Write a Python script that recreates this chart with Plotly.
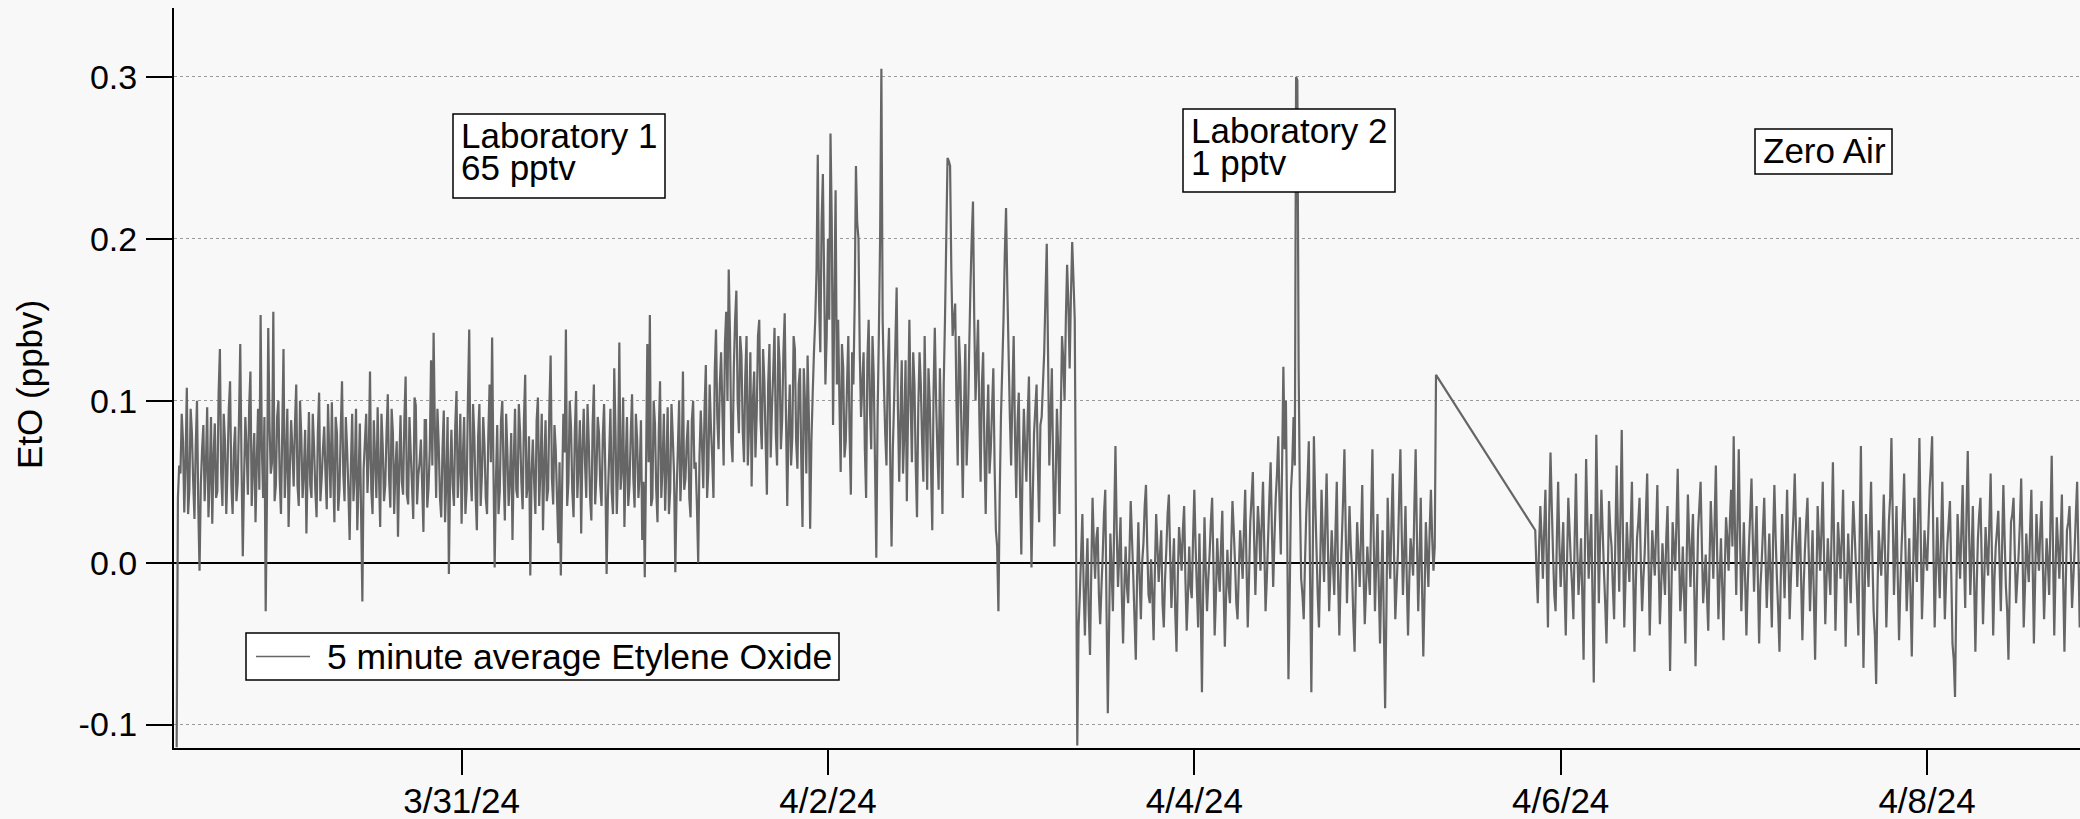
import pandas as pd
import plotly.graph_objects as go

# ---------------- data (in pptv) ----------------
# main readings every 20 min, plus the readings taken in between (offset by 10 min)
STEP = "20min"
HALF_STEP = pd.Timedelta("10min")

lab1_start = "2024-03-29 10:40"
lab1_pptv = [
    -114, 60, 92, 31, 108, 45, 80, 27, 100, -5, 70, 38, 96, 52, 24, 86, 44, 132, 35, 75,
    58, 112, 30, 84, 50, 135, 4, 90, 42, 118, 60, 25, 95, 153, 40, -30, 145, 55, 155, 48,
    100, 30, 132, 62, 22, 88, 47, 110, 35, 78, 56, 18, 93, 40, 72, 28, 105, 52, 84, 33,
    67, 99, 25, 80, 45, 112, 38, 70, 14, 92, 55, 20, 86, -24, 75, 43, 118, 30, 64, 96,
    22, 72, 48, 104, 34, 80, 58, 16, 91, 42, 115, 36, 68, 27, 97, 54, 76, 19, 88, 46,
    125, 142, 40, 73, 28, 94, 50, -7, 82, 35, 106, 60, 24, 90, 46, 144, 38, 78, 20, 98,
    55, 72, 30, 110, 139, -3, 85, 44, 100, 26, 68, 52, 14, 95, 40, 80, 33, 116, 48, -8,
    76, 30, 102, 58, 20, 88, 45, 128, 36, 70, 12, -8, 92, 144, 50, 84, 28, 106, 62, 18,
    95, 40, 74, 26, 110, 54, 80, 35, 98, -7, 66, 44, 120, 30, 136, 58, 22, 90, 48, 104,
    34, 76, 55, 14, -9, 135, 153, 40, 86, 25, 112, 60, 32, 96, 45, 78, -6, 70, 38, 118,
    52, 88, 28, 100, 62, 0, 94, 46, 122, 58, 84, 40, 144, 70, 130, 60, 155, 181, 75, 120,
    168, 80, 128, 62, 140, 85, 47, 118, 92, 150, 70, 112, 42, 135, 96, 145, 60, 123, 88, 154,
    35, 110, 78, 132, 58, 120, 22, 98, 128, 21, 104, 150, 252, 130, 240, 110, 200, 265, 85, 230,
    150, 56, 120, 75, 140, 42, 110, 245, 200, 90, 130, 40, 150, 70, 115, 3, 140, 305, 110, 60,
    145, 10, 100, 170, 50, 125, 80, 38, 150, 62, 110, 28, 130, 75, 140, 45, 100, 20, 145, 70,
    120, 30, 150, 250, 245, 140, 160, 60, 120, 40, 135, 85, 170, 223, 100, 150, 50, 130, 30, 110,
    70, 120, 20, -30, 90, 150, 219, 130, 60, 140, 40, 105, 5, 95, 50, 115, -3, 80, 110, 25,
    90, 130, 197, 60, 120, 10, 95, 30, 140, 100, 184, 120, 198, 150,
]
lab1_mid_pptv = [
    40, 55, 75, 62, 30, 95, 50, 72, 35, 48, 85, 60, 28, 90, 65, 40, 105, 55, 92, 30,
    95, 48, 70, 38, 88, 60, 52, 70, 96, 35, 80, 62, 45, 70, 90, 40, 85, 62, 38, 90,
    52, 80, 40, 95, 58, 70, 85, 48, 100, 40, 82, 60, 48, 92, 45, 80, 38, 70, 55, 98,
    40, 58, 90, 32, 82, 55, 90, 45, 60, 38, 95, 50, 30, 58, 92, 65, 45, 88, 40, 55,
    92, 38, 80, 52, 95, 30, 75, 60, 50, 88, 42, 90, 48, 102, 36, 62, 48, 88, 34, 70,
    60, 82, 95, 40, 70, 25, 90, 55, 48, 84, 40, 92, 66, 30, 102, 55, 98, 42, 78, 35,
    90, 40, 78, 62, 60, 50, 30, 88, 55, 92, 35, 80, 62, 45, 98, 50, 88, 40, 78, 55,
    50, 88, 35, 92, 60, 38, 96, 52, 85, 40, 62, 45, 68, 35, 100, 45, 80, 40, 88, 70,
    62, 98, 40, 85, 36, 90, 48, 78, 55, 40, 95, 30, 80, 58, 45, 102, 62, 35, 80, 52,
    92, 40, 88, 50, 60, 62, 35, 100, 45, 80, 40, 92, 60, 30, 98, 55, 42, 100, 60, 45,
    75, 40, 88, 58, 35, 65, 72, 95, 40, 110, 65, 118, 90, 110, 95, 135, 100, 140, 62, 150,
    100, 140, 82, 115, 60, 130, 100, 65, 140, 88, 132, 75, 110, 65, 118, 80, 140, 70, 130, 90,
    85, 60, 140, 75, 110, 65, 120, 55, 90, 75, 130, 180, 160, 210, 175, 140, 150, 210, 160, 110,
    100, 135, 65, 110, 80, 130, 160, 210, 130, 110, 70, 125, 95, 140, 60, 90, 200, 150, 80, 120,
    60, 70, 135, 95, 90, 55, 125, 95, 100, 130, 60, 95, 110, 50, 90, 120, 60, 105, 100, 45,
    80, 110, 200, 248, 180, 150, 100, 140, 80, 95, 60, 130, 200, 150, 125, 90, 110, 70, 80, 55,
    95, 60, 10, 40, 120, 190, 170, 90, 105, 80, 85, 45, 60, 70, 90, 50, 40, 95, 60, 85,
    110, 165, 130, 90, 60, 50, 70, 90, 125, 150, 160, 165, 175,
]

lab2_start = "2024-04-03 08:40"
lab2_pptv = [
    -113, -20, 30, -45, 15, -57, 40, -10, 22, -38, 5, 45, -93, 18, -30, 72, -15, 28, -50, 10,
    -25, 38, -8, -60, 25, -35, 12, 48, -20, 2, -48, 30, -12, 20, -40, 8, 42, -28, 15, -55,
    22, -5, 35, -42, 10, -22, 45, -15, 18, -80, 28, -30, 5, 40, -45, 15, -18, 32, -52, 8,
    -25, 38, 0, -35, 20, -10, 45, -40, 25, 56, -20, 35, -5, 50, -30, 15, 62, -15, 40, 78,
    5, 121, 100, -72, 45, 90, 300, 120, -10, -35, 30, 75, -80, 78, 10, -40, 45, -12, 55, -30,
    20, -20, 50, -45, 15, 70, -25, 35, -5, -55, 25, -15, 48, -38, 10, -20, 70, -30, 30, -50,
    20, -90, 40, -10, 55, -35, 5, 70, -20, 35, -45, 15, -8, 70, -30, 40, -58, 25, -15, 45, -5, 116,
]
lab2_mid_pptv = [
    -40, 5, -15, -10, -30, -5, 12, 15, -20, -15, 30, -30, -40, -5, 25, 20, 5, -20, -15, -15,
    5, 15, -35, -10, -10, 0, 35, 10, -25, -20, -5, 10, 5, -25, -10, 30, 5, -5, -30, -10,
    10, 20, -10, -20, -15, 15, 10, -40, -25, -15, -5, -10, 25, 0, -20, -5, 10, -15, -20, -15,
    10, 20, -25, -5, 5, 20, 0, -10, 40, 15, 10, 20, 25, 10, -10, 40, 20, 15, 55, 35,
    60, 70, 20, -20, 60, 60, 298, 40, -20, 0, 50, -10, -5, 40, -20, 0, 15, 25, 10, -5,
    0, 20, -10, -10, 40, 20, 5, 10, -35, -10, 5, 15, -5, -15, -5, 30, 15, 0, -15, -10,
    -40, -30, 10, 25, 5, -15, 40, 20, 5, -10, -10, 5, 35, 15, 0, -15, -20, 5, 20, 15, 10,
]

zero_air_start = "2024-04-05 20:40"
zero_air_pptv = [
    20, -25, 35, -10, 45, -40, 68, 5, -30, 50, -15, 25, -45, 40, 0, -35, 55, -20, 15, -60,
    64, -10, 30, -74, 79, -25, 45, -5, -50, 38, 10, -35, 60, -18, 82, -40, 25, -12, 50, -55,
    15, 40, -30, 5, 55, -45, 20, -8, 48, -38, 12, -20, 35, -67, 25, -5, 58, -30, 10, -50,
    42, -15, 30, -64, 20, 50, -25, 5, -42, 38, -10, 60, -35, 15, -48, 28, -5, 45, 78, -20,
    70, -30, 25, -45, 10, 52, -18, 35, -50, 0, 40, -28, 18, -40, 48, -10, -55, 30, -22, 45,
    -35, 12, 55, -15, 28, -48, 8, 40, -30, 20, -60, 35, -5, 50, -38, 15, -20, 62, -42, 25,
    -10, 45, -52, 18, -25, 38, 0, -45, 72, -65, 30, -15, 50, -30, -75, 20, -8, 42, -40, 25,
    77, -20, 35, -48, 10, 55, -30, 15, -58, 40, -12, 77, -35, 20, -5, 45, 78, -40, 28, -22,
    50, -35, 12, 38, -50, -83, 30, -10, 48, -28, 69, -20, 35, -55, 15, 40, -38, 22, -8, 55,
    -45, 10, 32, -30, 48, -15, -60, 25, 40, -25, 5, 52, -40, 18, -12, 45, -50, 30, -5, 38,
    -35, 15, -20, 66, -45, 28, -10, 42, -55, 20, 35, -28, 8, 50, -40, 25,
]
zero_air_mid_pptv = [
    -5, 10, 15, 20, 0, 30, 35, -20, 15, 10, 5, -15, 0, 20, -15, 15, 10, -5, -20, 5,
    25, 10, -20, 0, 30, 15, 20, -25, -10, 20, -15, 15, 20, 30, 15, -10, 5, 20, -5, -15,
    25, 0, -10, 30, 5, -10, 5, 20, 0, -15, -5, 15, -10, -20, 10, 25, 10, -15, -20, 0,
    15, 10, -15, -20, 35, 10, -10, -20, 0, 15, 25, 5, -10, -15, -5, 15, 25, 10, 20, 25,
    15, -5, -10, -15, 30, 15, 10, -10, -15, 20, 5, -5, -10, 15, 15, -30, -10, 5, 10, 5,
    -10, 30, 20, 10, -10, -15, 25, 5, -5, -20, -15, 15, 20, 5, -10, -5, 20, 10, -10, 10,
    15, -5, -15, -5, 10, 20, -20, 15, 5, -20, 5, 20, 5, -45, -20, 5, 15, 5, -10, 40,
    30, 5, -10, -15, 30, 10, -10, -20, -10, 10, 30, 20, -10, 5, 20, 60, 10, -5, 0, 15,
    5, -10, 25, -5, -60, -20, 10, 20, 5, 30, 20, 5, -10, -15, 30, 0, -10, 5, 25, 5,
    -10, 20, 0, 10, 15, -30, -15, 30, 5, -10, 25, 10, -15, 0, 20, 0, -10, 10, 20, 0,
    -10, 0, 25, 10, -5, 10, 15, -10, -15, 25, 5, -10, 30, 5, -5,
]

series_name = "5 minute average Etylene Oxide"
tick_dates = ["2024-03-31", "2024-04-02", "2024-04-04", "2024-04-06", "2024-04-08"]
tick_labels = ["3/31/24", "4/2/24", "4/4/24", "4/6/24", "4/8/24"]
y_ticks = [-0.1, 0.0, 0.1, 0.2, 0.3]
y_tick_labels = ["-0.1", "0.0", "0.1", "0.2", "0.3"]
period_labels = [["Laboratory 1", "65 pptv"], ["Laboratory 2", "1 pptv"], ["Zero Air"]]

# ---------------- build series (main and in-between readings merged in time order) ----
segments = [
    (lab1_start, lab1_pptv, lab1_mid_pptv),
    (lab2_start, lab2_pptv, lab2_mid_pptv),
    (zero_air_start, zero_air_pptv, zero_air_mid_pptv),
]
times, vals = [], []
for start, main, mid in segments:
    t_main = pd.date_range(start, periods=len(main), freq=STEP)
    for i, v in enumerate(main):
        times.append(t_main[i])
        vals.append(v / 1000.0)
        if i < len(mid):
            times.append(t_main[i] + HALF_STEP)
            vals.append(mid[i] / 1000.0)

# ---------------- layout geometry (pixels) ----------------
W, H = 2080, 819
L, R, T, B = 174, 0, 8, 71
PW, PH = W - L - R, H - T - B


def px_x(px):
    return (px - L) / PW


def px_y(py):
    return (H - B - py) / PH


BG = "#f8f8f8"
FONT = "Liberation Sans, Arial, Helvetica, sans-serif"
LINE_COLOR = "#666666"

fig = go.Figure()
fig.add_trace(go.Scatter(
    x=times, y=vals, mode="lines", name=series_name,
    line=dict(color=LINE_COLOR, width=2.2, simplify=False),
    showlegend=False,
))

shapes = []
annotations = []
# text boxes: (box x0, x1, y0, y1, text left, line middles)
box_geom = [
    (453, 665, 114, 198, 460, [135, 167]),
    (1183, 1395, 109, 192, 1190, [130, 162]),
    (1755, 1892, 129, 174, 1762, [150]),
]
for (x0, x1, y0, y1, tx, mids), lines in zip(box_geom, period_labels):
    shapes.append(dict(type="rect", xref="paper", yref="paper",
                       x0=px_x(x0), x1=px_x(x1), y0=px_y(y1), y1=px_y(y0),
                       line=dict(color="black", width=1.5), fillcolor="white", layer="above"))
    for text, my in zip(lines, mids):
        annotations.append(dict(text=text, xref="paper", yref="paper", x=px_x(tx), y=px_y(my),
                                xanchor="left", yanchor="middle", showarrow=False,
                                font=dict(size=35, color="black", family=FONT), borderpad=0))

# legend box (drawn by hand to match the long line sample)
shapes.append(dict(type="rect", xref="paper", yref="paper",
                   x0=px_x(246), x1=px_x(839), y0=px_y(680), y1=px_y(633),
                   line=dict(color="black", width=1.5), fillcolor="white", layer="above"))
shapes.append(dict(type="line", xref="paper", yref="paper",
                   x0=px_x(256), x1=px_x(310), y0=px_y(656.5), y1=px_y(656.5),
                   line=dict(color=LINE_COLOR, width=1.5), layer="above"))
annotations.append(dict(text=series_name, xref="paper", yref="paper",
                        x=px_x(326), y=px_y(656.5), xanchor="left", yanchor="middle",
                        showarrow=False, borderpad=0,
                        font=dict(size=35.5, color="black", family=FONT)))

annotations.append(dict(text="EtO (ppbv)", textangle=-90, xref="paper", yref="paper",
                        x=px_x(29), y=px_y(385), xanchor="center", yanchor="middle",
                        showarrow=False, font=dict(size=35, color="black", family=FONT)))

fig.update_layout(
    width=W, height=H,
    margin=dict(l=L, r=R, t=T, b=B, pad=0),
    paper_bgcolor=BG, plot_bgcolor=BG,
    font=dict(family=FONT, size=35, color="black"),
    showlegend=False,
    shapes=shapes, annotations=annotations,
    xaxis=dict(type="date",
               range=["2024-03-29 10:19:12", "2024-04-08 20:02:24"],
               tickmode="array", tickvals=tick_dates, ticktext=tick_labels,
               ticks="outside", ticklen=25, tickwidth=1.5, tickcolor="black",
               showline=True, linecolor="black", linewidth=2,
               showgrid=False, zeroline=False, automargin=False,
               tickfont=dict(size=35, family=FONT, color="black"), ticklabelstandoff=-4),
    yaxis=dict(range=[-0.1145, 0.3426],
               tickmode="array", tickvals=y_ticks, ticktext=y_tick_labels,
               ticks="outside", ticklen=26, tickwidth=1.5, tickcolor="black",
               showline=True, linecolor="black", linewidth=2,
               showgrid=True, gridcolor="#9a9a9a", gridwidth=1, griddash="dot",
               zeroline=True, zerolinecolor="black", zerolinewidth=1.5,
               automargin=False,
               tickfont=dict(size=34, family=FONT, color="black"), ticklabelstandoff=2),
)

fig.write_html("out.html", config={"displayModeBar": False})
